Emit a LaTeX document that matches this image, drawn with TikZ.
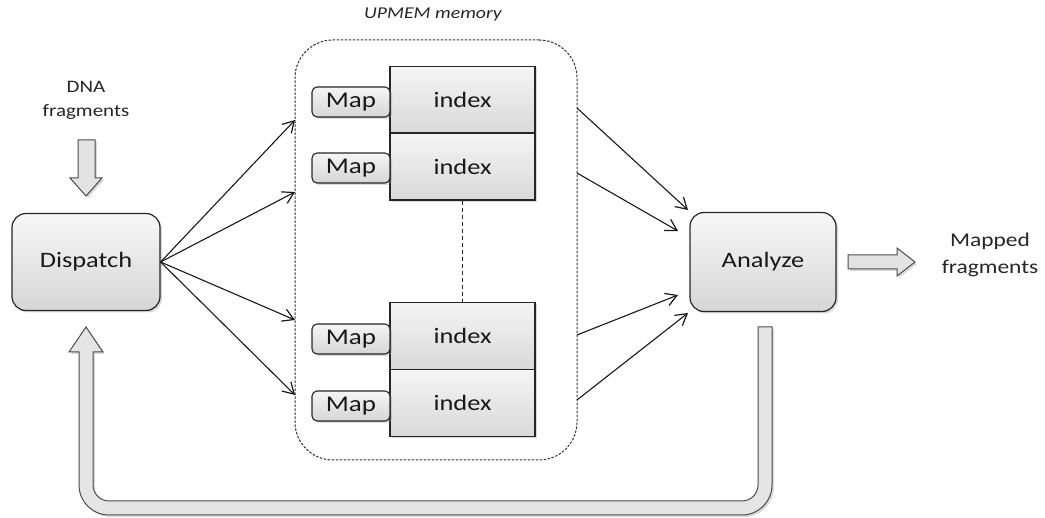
\documentclass[tikz,border=0pt]{standalone}
\usepackage{fontspec}
\setmainfont{Carlito}[FakeStretch=1.2]
\usetikzlibrary{arrows.meta,shadows}
\begin{document}
\begin{tikzpicture}[x=1pt,y=-1pt,
  shadowed/.style={drop shadow={opacity=0.3,shadow xshift=2pt,shadow yshift=-2pt}},
  procbox/.style={draw=black!85,line width=1.2pt,rounded corners=14pt,top color=gray!6,bottom color=gray!32,shadowed,
    font=\fontsize{22}{26}\selectfont,text=black!90},
  idxbox/.style={draw=black!85,line width=1.1pt,top color=gray!8,bottom color=gray!30,shadowed,
    minimum width=145pt,minimum height=67pt,inner sep=0pt,font=\fontsize{22}{26}\selectfont,text=black!90},
  mapbox/.style={draw=black!85,line width=1.1pt,rounded corners=5pt,top color=gray!8,bottom color=gray!32,shadowed,
    minimum width=78pt,minimum height=30pt,inner sep=0pt,font=\fontsize{22.5}{26}\selectfont,text=black!90},
  memframe/.style={draw=black!80,line width=1pt,dash pattern=on 2.5pt off 1.5pt,rounded corners=38pt,
    minimum width=282pt,minimum height=420pt,inner sep=0pt},
  conn/.style={draw=black!90,line width=1.1pt,-{Straight Barb[length=11pt,width=13pt,line width=1.2pt]}},
  hollow/.style={draw=black!70,line width=1pt,fill=gray!22,shadowed},
  lbl/.style={text=black!85,align=center}]
\useasboundingbox (0,0) rectangle (1045,518);

% labels
\node[lbl,font=\fontsize{17.5}{24}\selectfont] (dna) at (86,100) {DNA\\fragments};
\node[lbl,font=\fontsize{19.5}{27}\selectfont] (mapped) at (990,255) {Mapped\\fragments};
\node[lbl,font=\fontsize{16.5}{20}\selectfont\itshape] (upmem) at (433,15) {UPMEM memory};

% main boxes
\node[procbox,minimum width=148pt,minimum height=97pt] (dispatch) at (86,262) {Dispatch};
\node[procbox,minimum width=146pt,minimum height=99pt] (analyze) at (763,262) {Analyze};

% memory frame
\node[memframe] (mem) at (436,250) {};

% index boxes
\node[idxbox] (i1) at (462.5,100) {index};
\node[idxbox] (i2) at (462.5,166.5) {index};
\node[idxbox] (i3) at (462.5,336) {index};
\node[idxbox] (i4) at (462.5,403) {index};
\node[mapbox] (m1) at (351,102) {Map};
\node[mapbox] (m2) at (351,168) {Map};
\node[mapbox] (m3) at (351,339) {Map};
\node[mapbox] (m4) at (351,406) {Map};
\draw[black!85,line width=1.1pt,dash pattern=on 4pt off 3pt] (i2.south) -- (i3.north);

% dispatch to memory
\coordinate (d1) at (295,120);
\coordinate (d2) at (295,192);
\coordinate (d3) at (295,320);
\coordinate (d4) at (295,395);
\foreach \t in {d1,d2,d3,d4} \draw[conn] (dispatch.east) -- (\t);

% memory to analyze
\coordinate (o1) at (577,108);
\coordinate (o2) at (577,173);
\coordinate (o3) at (577,335);
\coordinate (o4) at (577,400);
\coordinate (a1) at (688,210);
\coordinate (a2) at (678,231);
\coordinate (a3) at (678,295);
\coordinate (a4) at (688,313);
\draw[conn] (o1) -- (a1);
\draw[conn] (o2) -- (a2);
\draw[conn] (o3) -- (a3);
\draw[conn] (o4) -- (a4);

% hollow arrow DNA -> Dispatch
\path[hollow] (78,140) -- (95,140) -- (95,178) -- (102,178) -- (86,196) -- (70,178) -- (78,178) -- cycle;
% hollow arrow Analyze -> Mapped
\path[hollow] (848,255) -- (897,255) -- (897,248) -- (915,262) -- (897,276) -- (897,269) -- (848,269) -- cycle;
% feedback U arrow
\path[hollow,fill=gray!20] (758,327) -- (772,327) -- (772,485) .. controls (772,501.6) and (758.6,515) .. (742,515)
  -- (109,515) .. controls (92.4,515) and (79,501.6) .. (79,485) -- (79,352) -- (69,352) -- (86,327)
  -- (103,352) -- (93,352) -- (93,485) .. controls (93,493.8) and (100.2,501) .. (109,501)
  -- (742,501) .. controls (750.8,501) and (758,493.8) .. (758,485) -- cycle;
\end{tikzpicture}
\end{document}
